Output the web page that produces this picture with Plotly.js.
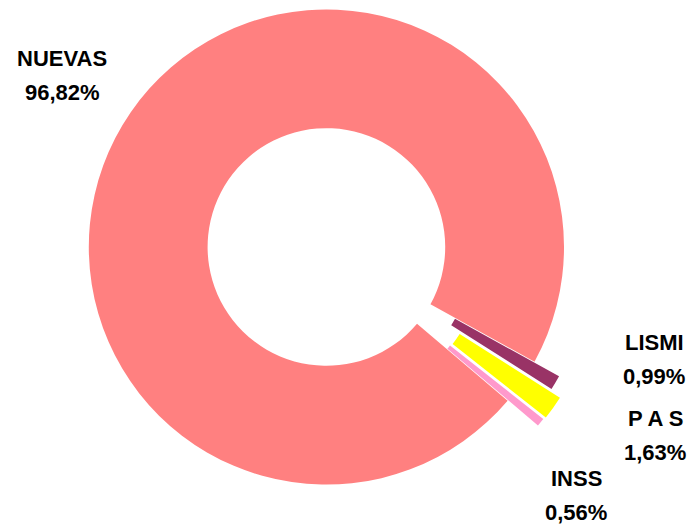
<!DOCTYPE html>
<html>
<head>
<meta charset="utf-8">
<script src="https://cdn.plot.ly/plotly-3.0.1.min.js"></script>
<style>
html,body{margin:0;padding:0;overflow:hidden;background:#ffffff;width:693px;height:529px;}
#chart{position:absolute;left:0;top:-31px;width:693px;height:560px;}
</style>
</head>
<body>
<div id="chart"></div>
<script>
// ---- data ----
const labels = ['NUEVAS', 'LISMI', 'P A S', 'INSS'];
const values = [96.82, 0.99, 1.63, 0.56];

// ---- styling / layout ----
const colors = ['#FF8080', '#993366', '#FFFF00', '#FF99CC'];
const pulls = [0, 0.12, 0.17, 0.165];
const W = 693, H = 560, OFFSET = 31;
// pixel centre of the name line for each label; value line sits LINE px below
const labelCenters = [[62, 58], [654, 342], [655, 418], [576, 478]];
const LINE = 34;
const FONT = '"Liberation Sans", Arial, sans-serif';

const fmt = v => v.toFixed(2).replace('.', ',') + '%';

const trace = {
  type: 'pie',
  labels: labels,
  values: values,
  sort: false,
  direction: 'clockwise',
  rotation: 130.3,
  hole: 0.5,
  pull: pulls,
  marker: { colors: colors, line: { width: 0 } },
  textinfo: 'none',
  hoverinfo: 'none',
  showlegend: false,
  domain: { x: [0.066, 0.876], y: [4 / H, 1] }
};

function ann(text, cx, cy) {
  return {
    xref: 'paper', yref: 'paper',
    x: cx / W,
    y: 1 - (cy + OFFSET) / H,
    xanchor: 'center', yanchor: 'middle',
    showarrow: false,
    align: 'center',
    text: text,
    font: { family: FONT, size: 22, color: '#000000', weight: 'bold' }
  };
}

const annotations = [];
labels.forEach((lab, i) => {
  const [cx, cy] = labelCenters[i];
  annotations.push(ann(lab, cx, cy));
  annotations.push(ann(fmt(values[i]), cx, cy + LINE));
});

const layout = {
  width: W, height: H,
  margin: { l: 0, r: 0, t: 0, b: 0, pad: 0 },
  paper_bgcolor: '#ffffff',
  plot_bgcolor: '#ffffff',
  showlegend: false,
  annotations: annotations
};

Plotly.newPlot('chart', [trace], layout, { displayModeBar: false, staticPlot: true });
</script>
</body>
</html>
